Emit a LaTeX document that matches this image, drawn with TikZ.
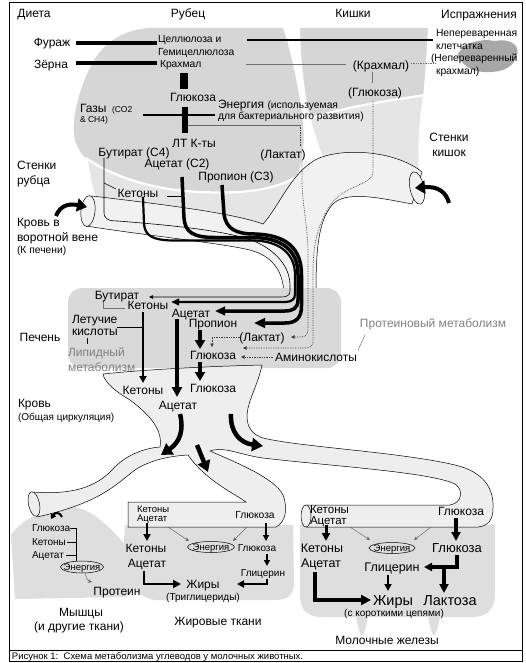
\documentclass[tikz,border=0pt]{standalone}
\usepackage{fontspec}
\setmainfont{Liberation Sans}
\usetikzlibrary{arrows.meta}
\newcommand\fsz[1]{\fontsize{#1}{#1}\selectfont}
\definecolor{rumenc}{gray}{0.84}
\definecolor{wallc}{gray}{0.9}
\definecolor{tubec}{gray}{0.945}
\definecolor{liverc}{gray}{0.85}
\definecolor{bloodc}{gray}{0.935}
\definecolor{tissuec}{gray}{0.87}
\definecolor{fecesc}{gray}{0.66}
\definecolor{graytxt}{gray}{0.5}
\begin{document}
\begin{tikzpicture}[x=1pt,y=-1pt,
  fs/.style={inner sep=0pt,outer sep=0pt,font=\fsz{#1},text height={0.72*#1pt},text depth=0pt},
  outl/.style={draw=black,line width=0.5pt},
  dotl/.style={densely dotted,line width=0.7pt,black!75},
  dtip/.style={-{Triangle[length=3.5pt,width=3.5pt]}},
  thinarr/.style={line width=0.45pt,black!60,-{Stealth[length=4pt,width=3.5pt]}},
  big/.style={line width=4.5pt,-{Triangle[length=11pt,width=13pt]}}
]
\useasboundingbox (0,0) rectangle (526,663);

% ---------- rumen ----------
\fill[wallc] (150,28) -- (283,28) .. controls (292,55) and (300,95) .. (303,125)
  .. controls (305,150) and (300,172) .. (292,186) .. controls (283,203) and (272,218) .. (260,224)
  -- (97,200) .. controls (93,190) and (90,175) .. (88,160)
  .. controls (82,155) and (77,148) .. (75,140) .. controls (71,120) and (78,95) .. (88,72)
  .. controls (98,48) and (118,30) .. (150,28) -- cycle;
\fill[rumenc] (150,28) -- (283,28) .. controls (292,55) and (300,95) .. (303,125)
  .. controls (305,145) and (302,165) .. (296,178)
  .. controls (275,190) and (245,194) .. (200,192) .. controls (150,190) and (110,175) .. (88,160)
  .. controls (82,155) and (77,148) .. (75,140) .. controls (71,120) and (78,95) .. (88,72)
  .. controls (98,48) and (118,30) .. (150,28) -- cycle;
\draw[white,line width=2.2pt] (298,176) .. controls (275,190) and (245,194) .. (200,192)
  .. controls (150,190) and (110,175) .. (86,158);

% ---------- intestine ----------
\fill[wallc] (300,28) -- (428,28) .. controls (426,60) and (424,90) .. (421,110)
  .. controls (418,135) and (418,160) .. (419,180) -- (332,180)
  .. controls (324,160) and (316,140) .. (310,115) .. controls (304,90) and (301,60) .. (300,28) -- cycle;
\fill[rumenc] (300,28) -- (428,28) .. controls (426,55) and (425,80) .. (423,96)
  .. controls (390,100) and (340,108) .. (310,117) .. controls (304,90) and (301,60) .. (300,28) -- cycle;
\draw[white,line width=2.2pt] (426,95) .. controls (390,100) and (340,108) .. (308,119);

% ---------- feces ----------
\fill[fecesc] (457,56) .. controls (462,43) and (480,38) .. (495,41) .. controls (510,38) and (520,45) .. (517,55)
  .. controls (515,65) and (505,72) .. (490,72) .. controls (475,73) and (465,68) .. (457,56) -- cycle;

% ---------- portal tube ----------
\filldraw[fill=tubec,outl] (92,196) .. controls (150,203) and (230,212) .. (263,224)
  .. controls (280,205) and (290,175) .. (315,160) .. controls (340,147) and (395,150) .. (422,172)
  -- (412,204) .. controls (380,198) and (345,190) .. (332,205)
  .. controls (318,222) and (316,250) .. (316,294) -- (284,294)
  .. controls (283,270) and (272,256) .. (250,250) .. controls (220,243) and (150,236) .. (86,226) -- cycle;
\filldraw[fill=tubec,outl,rotate around={-6:(88,211)}] (88,211) ellipse [x radius=7pt,y radius=15.5pt];
\filldraw[fill=tubec,outl,rotate around={12:(417,188)}] (417,188) ellipse [x radius=7pt,y radius=16.5pt];

% ---------- liver ----------
\fill[liverc,rounded corners=14pt] (68,288) rectangle (341,368);

% ---------- tissues ----------
\fill[tissuec] (11,535) .. controls (25,515) and (55,505) .. (75,507) .. controls (100,512) and (120,540) .. (135,555)
  .. controls (142,565) and (140,588) .. (125,597) -- (15,599) -- cycle;
\fill[tissuec] (125,525) -- (293,525) -- (294,582) .. controls (294,595) and (288,600) .. (275,600)
  -- (155,600) .. controls (135,598) and (123,575) .. (123,555) -- cycle;
\fill[tissuec] (300,525) -- (495,525) -- (495,592) .. controls (495,610) and (487,617) .. (472,617) -- (440,617)
  .. controls (438,625) and (437,633) .. (434,636) .. controls (431,633) and (430,625) .. (428,617) -- (368,617)
  .. controls (366,625) and (365,633) .. (362,636) .. controls (359,633) and (358,625) .. (356,617) -- (322,617)
  .. controls (307,617) and (300,610) .. (300,595) -- cycle;

% ---------- blood (general circulation) ----------
\filldraw[fill=bloodc,outl] (103,374) .. controls (150,369) and (220,366) .. (262,365)
  .. controls (258,385) and (248,400) .. (247,415) .. controls (247,428) and (252,434) .. (263,438)
  .. controls (300,447) and (400,452) .. (455,465) .. controls (485,472) and (494,490) .. (493,508)
  .. controls (493,520) and (488,526) .. (478,527) -- (306,527) -- (306,505) -- (450,505)
  .. controls (462,503) and (464,490) .. (455,484) .. controls (430,472) and (330,466) .. (263,458)
  .. controls (240,455) and (225,446) .. (210,451)
  .. controls (235,462) and (275,478) .. (283,495) .. controls (288,508) and (286,522) .. (276,527)
  -- (128,527) -- (128,502) -- (246,502)
  .. controls (235,494) and (205,480) .. (188,455)
  .. controls (170,456) and (150,460) .. (135,470) .. controls (115,485) and (100,503) .. (37,517)
  -- (33,492) .. controls (70,495) and (95,488) .. (112,470) .. controls (125,455) and (145,448) .. (160,447)
  .. controls (163,430) and (150,415) .. (130,400) .. controls (110,388) and (104,380) .. (103,374) -- cycle;
\filldraw[fill=bloodc,outl,rotate around={12:(34,504)}] (34,504) ellipse [x radius=5.5pt,y radius=12.5pt];
\filldraw[fill=bloodc,outl] (306,516) ellipse [x radius=5pt,y radius=11pt];

% ---------- rumen connectors ----------
\draw[line width=4pt] (76,43) -- (157,43);
\draw[line width=4pt] (76,63) -- (157,63);
\draw[line width=1.8pt] (247,40) -- (433,40);
\draw[line width=0.6pt,black!55] (246,64) -- (346,64);
\draw[dotl,black!55] (411,63) -- (436,63);
\draw[line width=0.6pt,black!55] (372,72) -- (372,83);
\draw[line width=8pt] (184,73) -- (184,89);
\draw[line width=6pt] (185,107) -- (185,133);
\draw[line width=1.5pt] (143,115) -- (215,115);
\draw[line width=0.5pt,black!60] (188,125) -- (300,125);
\draw[dotl] (300,125) -- (300,147);
\draw[line width=0.6pt] (167,196) -- (182,196);
\draw[line width=0.6pt] (104,183) -- (116,189);

% lactate (rumen) dotted
\draw[dotl,dtip] (302,161) -- (302,180) .. controls (302,205) and (308,225) .. (308,255) -- (308,330)
  .. controls (308,335) and (305,337) .. (300,337) -- (291,337);
% intestinal glucose dotted
\draw[dotl,dtip] (373,101) -- (373,172) .. controls (373,185) and (345,185) .. (332,203)
  .. controls (318,222) and (313,245) .. (313,270) -- (313,342) .. controls (313,346) and (310,348) .. (305,348) -- (243,348);

% absorption bundle
\draw[line width=0.6pt,-{Triangle[length=4pt,width=3.5pt]}] (104,158) -- (104,212)
  .. controls (104,219) and (108,221) .. (118,221) .. controls (180,226) and (240,232) .. (262,245)
  .. controls (280,255) and (290,270) .. (290,285) -- (290,291) .. controls (290,295) and (287,297) .. (282,297) -- (149,297);
\draw[line width=2.2pt,-{Triangle[length=8pt,width=6.5pt]}] (143,197) -- (144,224)
  .. controls (145,236) and (153,240) .. (172,240.5) -- (255,240.5)
  .. controls (279,241.5) and (295,253) .. (295,275) -- (295,294) .. controls (295,299) and (292,302) .. (285,302) -- (171,302);
\draw[line width=3.5pt,-{Triangle[length=10pt,width=8.5pt]}] (182,177) -- (184,218)
  .. controls (185,232) and (193,237.5) .. (215,237.5) -- (255,237.5)
  .. controls (282,238.5) and (298,250) .. (298,275) -- (298,300) .. controls (298,308) and (293,311) .. (285,311) -- (215,311);
\draw[line width=3.5pt,-{Triangle[length=11pt,width=9.5pt]}] (222,185) -- (224,214)
  .. controls (226,229) and (236,234) .. (255,234)
  .. controls (285,235) and (301.5,247) .. (301.5,275) -- (301.5,306) .. controls (301.5,318) and (296,323) .. (285,323) -- (254,323);

% curved inflow arrows
\draw[line width=4pt,-{Triangle[length=10pt,width=13pt]}] (56,216) .. controls (60,206) and (68,203) .. (87,207);
\draw[line width=4pt,-{Triangle[length=10pt,width=13pt]}] (449,203) .. controls (446,192) and (438,186) .. (415,188);

% ---------- liver connectors ----------
\draw[line width=2pt,-{Triangle[length=7pt,width=7pt]}] (143,312) -- (143,383);
\draw[line width=3.5pt,-{Triangle[length=10pt,width=10pt]}] (177,319) -- (177,397);
\draw[line width=4pt,-{Triangle[length=9pt,width=10pt]}] (200,330) -- (200,349);
\draw[line width=4pt,-{Triangle[length=9pt,width=10pt]}] (200,362) -- (200,381);
\draw[line width=0.6pt] (117,327) -- (143,327);
\draw[line width=0.6pt] (87,338) -- (87,344);
\draw[line width=0.6pt,black!55] (103,300) -- (103,308) -- (125,308);
\draw[dotl,dtip] (240,337) -- (212,337) -- (212,347);
\draw[dotl,dtip] (273,357) -- (241,357);
\draw[line width=0.5pt,black!55] (365,335) -- (358,350);

% ---------- blood arrows ----------
\draw[big] (180,414) .. controls (184,430) and (180,442) .. (161,455);
\draw[big] (197,445) -- (208,472);
\draw[big] (231,414) .. controls (230,432) and (240,443) .. (263,446);

% ---------- muscle ----------
\draw[line width=2pt,-{Triangle[length=5pt,width=6pt]}] (62,517) .. controls (60,512) and (55,512) .. (51,519);
\draw[line width=0.5pt] (70,528) -- (76,528) -- (76,561);
\draw[line width=0.5pt] (67,542) -- (76,542);
\draw[line width=0.5pt] (66,555) -- (76,555);
\draw[line width=0.5pt] (82,567) ellipse [x radius=21.5pt,y radius=6pt];
\draw[thinarr] (85,573) .. controls (86,578) and (88,581) .. (92,582);

% ---------- adipose ----------
\draw[line width=2.6pt,-{Triangle[length=7pt,width=7pt]}] (147,523) -- (147,541);
\draw[line width=2pt,-{Triangle[length=6pt,width=6pt]}] (266,523) -- (266,541);
\draw[thinarr] (168,527) -- (189,541);
\draw[thinarr] (247,527) -- (233,541);
\draw[line width=0.5pt] (211,547) ellipse [x radius=23.5pt,y radius=5.5pt];
\draw[line width=2pt,-{Triangle[length=6pt,width=6pt]}] (267,554) -- (267,566);
\draw[line width=2.5pt,-{Triangle[length=7pt,width=7pt]}] (267,579) -- (267,584) -- (237,584);
\draw[line width=2.8pt,-{Triangle[length=8pt,width=8pt]}] (144,571) -- (144,584) -- (181,584);

% ---------- mammary ----------
\draw[line width=3pt,-{Triangle[length=8pt,width=8pt]}] (326,525) -- (326,541);
\draw[line width=3.5pt,-{Triangle[length=9pt,width=9pt]}] (456,518) -- (456,541);
\draw[thinarr] (350,527) -- (370,540);
\draw[thinarr] (431,527) -- (414,540);
\draw[line width=0.5pt] (392,548) ellipse [x radius=23pt,y radius=5.5pt];
\draw[line width=3.2pt,-{Triangle[length=8pt,width=8pt]}] (457,555) -- (457,567) -- (424,567);
\draw[line width=3.5pt,-{Triangle[length=9pt,width=9pt]}] (444,567) -- (444,593);
\draw[line width=2.5pt,-{Triangle[length=7pt,width=7pt]}] (388,575) -- (388,591);
\draw[line width=3.5pt,-{Triangle[length=10pt,width=10pt]}] (315,572) -- (315,600) -- (371,600);

% ---------- texts ----------
\node[fs=12] (hdiet) at (34,13) {Диета};
\node[fs=12] (hrum) at (188,13) {Рубец};
\node[fs=12] (hint) at (353,13) {Кишки};
\node[fs=12] (hfec) at (479,14) {Испражнения};
\node[fs=12] (furazh) at (52,42) {Фураж};
\node[fs=12] (zerna) at (51,64) {Зёрна};
\node[fs=10.3,anchor=west] (cell1) at (158,39) {Целлюлоза и};
\node[fs=10.3,anchor=west] (cell2) at (158,52) {Гемицеллюлоза};
\node[fs=10.3,anchor=west] (krah) at (160,64) {Крахмал};
\node[fs=12] (ikrah) at (381,65) {(Крахмал)};
\node[fs=12] (iglu) at (375,92) {(Глюкоза)};
\node[fs=10.3,anchor=west] (f1) at (436,33) {Непереваренная};
\node[fs=10.3,anchor=west] (f2) at (436,46) {клетчатка};
\node[fs=10.3,anchor=west] (f3) at (431,58) {(Непереваренный};
\node[fs=10.3,anchor=west] (f4) at (436,71) {крахмал)};
\node[fs=12] (rglu) at (193,97) {Глюкоза};
\node[fs=12,anchor=west] (gas1) at (80,108) {Газы};
\node[fs=8.5,anchor=west] (gas2) at (112,109) {(CO2};
\node[fs=8.5,anchor=west] (gas3) at (80,119) {\& CH4)};
\node[fs=12,anchor=west] (en1) at (218,104) {Энергия {\fsz{10.3}(используемая}};
\node[fs=10.3,anchor=west] (en2) at (218,116) {для бактериального развития)};
\node[fs=12] (ltk) at (194,143) {ЛТ К-ты};
\node[fs=12] (rlak) at (283,154) {(Лактат)};
\node[fs=12] (rbut) at (134,152) {Бутират (C4)};
\node[fs=12] (race) at (177,163) {Ацетат (C2)};
\node[fs=12] (rpro) at (236,176) {Пропион (C3)};
\node[fs=12] (rket) at (138,193) {Кетоны};
\node[fs=12,anchor=west] (sr1) at (17,165) {Стенки};
\node[fs=12,anchor=west] (sr2) at (17,180) {рубца};
\node[fs=12,anchor=west] (kv1) at (17,222) {Кровь в};
\node[fs=12,anchor=west] (kv2) at (17,237) {воротной вене};
\node[fs=10.3,anchor=west] (kv3) at (17,250) {(К печени)};
\node[fs=12] (sk1) at (449,137) {Стенки};
\node[fs=12] (sk2) at (449,152) {кишок};

\node[fs=12] (lbut) at (117,295) {Бутират};
\node[fs=12] (lket) at (148,305) {Кетоны};
\node[fs=12] (lace) at (191,313) {Ацетат};
\node[fs=12] (lpro) at (213,323) {Пропион};
\node[fs=12,anchor=west] (lv1) at (72,319) {Летучие};
\node[fs=12,anchor=west] (lv2) at (72,331) {кислоты};
\node[fs=12,anchor=west,text=graytxt] (lip1) at (68,352) {Липидный};
\node[fs=12,anchor=west,text=graytxt] (lip2) at (68,367) {метаболизм};
\node[fs=12] (llak) at (262,337) {(Лактат)};
\node[fs=12] (lglu) at (213,355) {Глюкоза};
\node[fs=12] (amino) at (316,357) {Аминокислоты};
\node[fs=12,text=graytxt] (prot) at (433,323) {Протеиновый метаболизм};
\node[fs=12] (pech) at (40,337) {Печень};

\node[fs=12] (bket) at (143,390) {Кетоны};
\node[fs=12] (bglu) at (213,388) {Глюкоза};
\node[fs=12] (bace) at (178,405) {Ацетат};
\node[fs=12,anchor=west] (kr1) at (18,403) {Кровь};
\node[fs=10,anchor=west] (kr2) at (18,417) {(Общая циркуляция)};

\node[fs=10,anchor=west] (mglu) at (32,528) {Глюкоза};
\node[fs=10,anchor=west] (mket) at (32,542) {Кетоны};
\node[fs=10,anchor=west] (mace) at (32,555) {Ацетат};
\node[fs=9.5] (men) at (82,567) {Энергия};
\node[fs=12] (mprot) at (117,591) {Протеин};
\node[fs=12] (mys1) at (81,612) {Мышцы};
\node[fs=12] (mys2) at (79,626) {(и другие ткани)};

\node[fs=9.5,anchor=west] (aket0) at (137,509) {Кетоны};
\node[fs=9.5,anchor=west] (aace0) at (137,518.5) {Ацетат};
\node[fs=10.3] (aglu0) at (255,515) {Глюкоза};
\node[fs=12] (aket) at (146,548) {Кетоны};
\node[fs=12] (aace) at (147,563) {Ацетат};
\node[fs=9.5] (aen) at (211,547) {Энергия};
\node[fs=10] (aglu) at (257,548) {Глюкоза};
\node[fs=10] (agly) at (263,573) {Глицерин};
\node[fs=12] (afat) at (203,584) {Жиры};
\node[fs=10] (atg) at (203,597) {(Триглицериды)};
\node[fs=12] (atis) at (218,621) {Жировые ткани};

\node[fs=11.5,anchor=west] (gket0) at (310,509) {Кетоны};
\node[fs=11.5,anchor=west] (gace0) at (310,520.5) {Ацетат};
\node[fs=12] (gglu0) at (461,511) {Глюкоза};
\node[fs=12.5] (gket) at (322,548) {Кетоны};
\node[fs=12.5] (gace) at (321,563) {Ацетат};
\node[fs=9.5] (gen) at (392,548) {Энергия};
\node[fs=13] (gglu) at (457,548) {Глюкоза};
\node[fs=12.5] (ggly) at (392,567) {Глицерин};
\node[fs=14.5] (gfat) at (393,600) {Жиры};
\node[fs=14.5] (glac) at (450,600) {Лактоза};
\node[fs=10] (gsc) at (394,613) {(с короткими цепями)};
\node[fs=12] (gtis) at (387,640) {Молочные железы};

\node[fs=9.5,anchor=west] (cap) at (12,656) {Рисунок 1:\ \ Схема метаболизма углеводов у молочных животных.};

% ---------- frame ----------
\draw[line width=0.8pt] (9,2.5) rectangle (522.5,661);
\draw[line width=0.8pt] (9,650) -- (522.5,650);
\end{tikzpicture}
\end{document}
